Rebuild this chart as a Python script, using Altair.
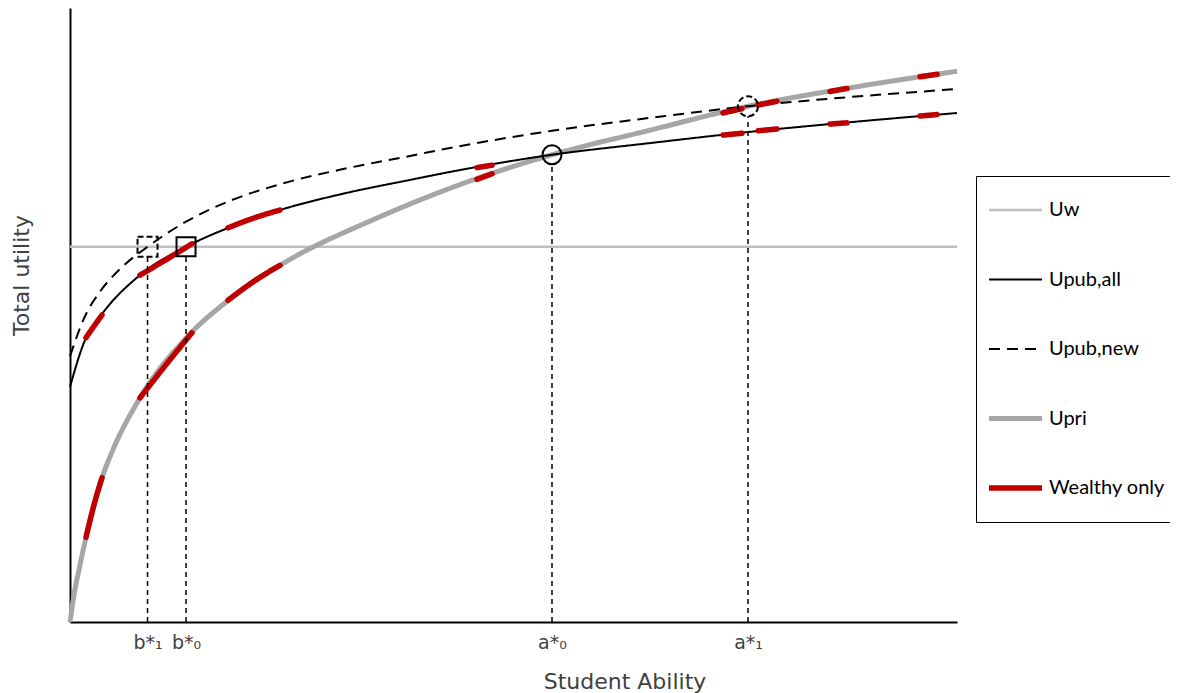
import altair as alt
import pandas as pd

# ---- series styling (legend order) ----
series_order = ["Uw", "Upub,all", "Upub,new", "Upri", "Wealthy only"]
series_colors = ["#bfbfbf", "#000000", "#000000", "#a6a6a6", "#c00000"]
series_dash = [[1, 0], [1, 0], [11, 7], [1, 0], [1, 0]]
series_width = [2.5, 2, 2, 5, 5.5]

# ---- curves (Student Ability 0-100, Total utility 0-100) ----
uw_x = [0, 100]
uw_y = [61.1, 61.1]

upri_x = [0, 0.45, 1.13, 1.92, 3.61, 4.74, 7.89, 13.19, 18.04, 23.68,
          34.95, 45.43, 54.34, 65.39, 76.44, 87.94, 100]
upri_y = [0, 4.4, 9.3, 14.5, 23.5, 27.7, 36.5, 46.4, 52.6, 58.1,
          66.0, 72.0, 76.1, 80.1, 84.0, 87.0, 89.7]

upub_all_x = [0, 1.69, 3.38, 7.89, 13.08, 18.04, 23.68, 31.23, 38.33, 42.84,
              54.34, 65.39, 76.44, 87.94, 100]
upub_all_y = [38.3, 45.9, 49.7, 56.5, 61.1, 64.3, 67.1, 69.9, 72.0, 73.3,
              76.1, 78.0, 79.8, 81.4, 82.9]

upub_new_x = [0, 1.69, 3.38, 5.64, 8.74, 13.08, 18.04, 23.68, 31.23, 38.33,
              42.84, 54.34, 65.39, 76.44, 87.94, 100]
upub_new_y = [43.3, 49.8, 53.8, 57.5, 61.1, 65.2, 68.6, 71.3, 73.9, 75.9,
              77.2, 80.0, 82.1, 84.0, 85.5, 86.8]

# ---- "Wealthy only" red dashes, on Upub,all and on Upri ----
red_all_x = [[1.80, 2.71, 3.61], [7.89, 10.82, 13.75], [17.81, 20.74, 23.68],
             [45.89, 47.58], [73.62, 75.76], [77.57, 79.71], [85.68, 87.60],
             [95.83, 97.75]]
red_all_y = [[46.3, 48.2, 50.0], [56.5, 59.0, 61.6], [64.2, 65.8, 67.1],
             [74.0, 74.4], [79.3, 79.6], [80.0, 80.3], [81.1, 81.3],
             [82.4, 82.65]]
red_pri_x = red_all_x
red_pri_y = [[13.8, 19.1, 23.5], [36.5, 41.9, 47.1], [52.4, 55.5, 58.1],
             [72.1, 73.0], [82.9, 83.6], [84.2, 84.8], [86.4, 86.9],
             [88.8, 89.2]]

# ---- thresholds ----
tick_values = [8.74, 13.08, 54.34, 76.44]
tick_labels = ["b*₁", "b*₀", "a*₀", "a*₁"]
marker_y = [61.1, 61.1, 76.1, 84.0]
marker_shape = ["square", "square", "circle", "circle"]
marker_dashed = [True, False, False, True]

rows = []


def add(series, seg, xs, ys):
    for xv, yv in zip(xs, ys):
        rows.append({"series": series, "seg": seg, "x": xv, "y": yv})


add("Uw", "uw", uw_x, uw_y)
add("Upri", "upri", upri_x, upri_y)
add("Upub,all", "all", upub_all_x, upub_all_y)
add("Upub,new", "new", upub_new_x, upub_new_y)
for i, (xs, ys) in enumerate(zip(red_all_x, red_all_y)):
    add("Wealthy only", f"ra{i}", xs, ys)
for i, (xs, ys) in enumerate(zip(red_pri_x, red_pri_y)):
    add("Wealthy only", f"rp{i}", xs, ys)
df = pd.DataFrame(rows)

mk = pd.DataFrame({"x": tick_values, "y": marker_y, "shape": marker_shape,
                   "dashed": marker_dashed, "y0": [0] * 4})

label_expr = " : ".join(
    [f"abs(datum.value - {v}) < 0.5 ? '{t}'" for v, t in zip(tick_values, tick_labels)]
) + " : ''"

xscale = alt.Scale(domain=[0, 100], nice=False, zero=False)
yscale = alt.Scale(domain=[0, 100], nice=False, zero=False)

xaxis = alt.Axis(values=tick_values, labelExpr=label_expr, title="Student Ability",
                 ticks=False, grid=False, labelAngle=0, labelFont="DejaVu Sans",
                 labelFontSize=19, labelColor="#404040", labelPadding=11,
                 titleFont="DejaVu Sans", titleFontSize=22, titleFontWeight="normal",
                 titleColor="#404040", titleX=554.5, titleY=59,
                 titleBaseline="middle", titleAlign="center")
yaxis = alt.Axis(labels=False, ticks=False, grid=False, title="Total utility",
                 titleFont="DejaVu Sans", titleFontSize=22, titleFontWeight="normal",
                 titleColor="#404040", titleX=-49, titleY=267,
                 titleBaseline="middle", titleAlign="center", titleAngle=270)

leg = alt.Legend(title=None, orient="none", legendX=906, legendY=168,
                 symbolType="stroke", symbolSize=2809, labelFont="Lato",
                 labelFontSize=20, labelColor="black", padding=10,
                 strokeColor="black", rowPadding=21.5, clipHeight=48,
                 labelOffset=4)

enc = dict(
    x=alt.X("x:Q", scale=xscale, axis=xaxis),
    y=alt.Y("y:Q", scale=yscale, axis=yaxis),
    color=alt.Color("series:N", scale=alt.Scale(domain=series_order, range=series_colors), legend=leg),
    strokeDash=alt.StrokeDash("series:N", scale=alt.Scale(domain=series_order, range=series_dash), legend=leg),
    strokeWidth=alt.StrokeWidth("series:N", scale=alt.Scale(type="ordinal", domain=series_order, range=series_width), legend=leg),
    detail="seg:N",
)

base = alt.Chart(df)
lines_main = base.transform_filter("datum.series != 'Wealthy only'").mark_line(
    interpolate="monotone").encode(**enc)
lines_red = base.transform_filter("datum.series == 'Wealthy only'").mark_line(
    interpolate="monotone", strokeCap="round").encode(**enc)

rules = alt.Chart(mk).mark_rule(color="black", strokeWidth=1.5, strokeDash=[5, 4],
                                y2Offset=10).encode(
    x=alt.X("x:Q", scale=xscale), y=alt.Y("y0:Q", scale=yscale), y2="y:Q")

shape_scale = alt.Scale(domain=["square", "circle"], range=["square", "circle"])
pts_solid = alt.Chart(mk).transform_filter("!datum.dashed").mark_point(
    filled=False, color="black", strokeWidth=2, size=361, opacity=1).encode(
    x=alt.X("x:Q", scale=xscale), y=alt.Y("y:Q", scale=yscale),
    shape=alt.Shape("shape:N", scale=shape_scale, legend=None))
pts_dashed = alt.Chart(mk).transform_filter("datum.dashed").mark_point(
    filled=False, color="black", strokeWidth=2, size=400, opacity=1, strokeDash=[6, 3]).encode(
    x=alt.X("x:Q", scale=xscale), y=alt.Y("y:Q", scale=yscale),
    shape=alt.Shape("shape:N", scale=shape_scale, legend=None))

chart = alt.layer(lines_main, lines_red, rules, pts_solid, pts_dashed).properties(
    width=887, height=614,
    autosize=alt.AutoSizeParams(type="none"),
    padding={"left": 62, "top": 0, "right": 213, "bottom": 71},
    background="white",
).configure_view(stroke=None).configure_axis(
    domainColor="black", domainWidth=2)

chart.save("out.html", embed_options={"renderer": "svg", "actions": False})
